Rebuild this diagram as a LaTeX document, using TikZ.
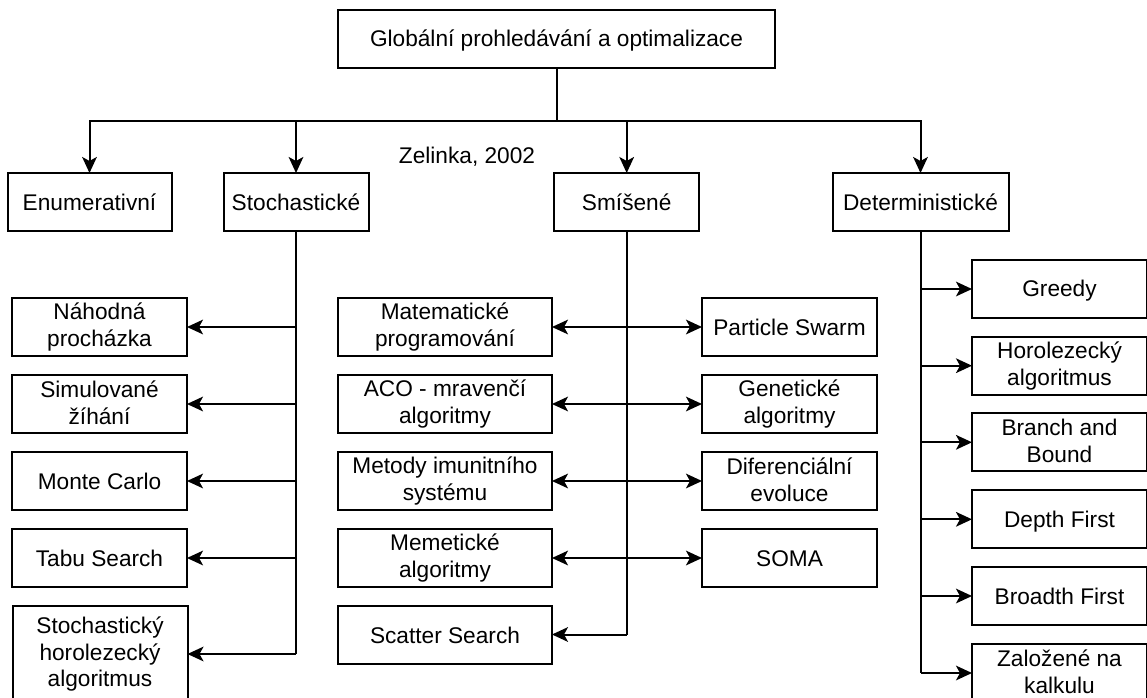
\documentclass[tikz,border=0pt]{standalone}
\usepackage{fontspec}
\setmainfont{Liberation Sans}
\usetikzlibrary{arrows.meta}

% line struts so every label sits on the same baseline grid
\newcommand\topstrut{\rule{0pt}{15.5pt}}
\newcommand\botstrut{\rule[-2.5pt]{0pt}{2.5pt}}

\begin{document}
\begin{tikzpicture}[x=0.75pt,y=-0.75pt,
  label text/.style={font=\fontsize{17}{20}\selectfont,
              execute at begin node=\topstrut,
              execute at end node=\botstrut},
  box/.style={draw, line width=1.5pt, inner sep=0pt, outer sep=0pt,
              align=center, minimum height=43.5pt, label text},
  wire/.style={line width=1.5pt},
  tip/.tip={Stealth[length=12pt,width=11pt,inset=3pt]},
  arr/.style={wire, -tip},
  darr/.style={wire, tip-tip},
  leaf/.style={box, minimum width=131.25pt},
  wide/.style={box, minimum width=160.5pt}
]
\useasboundingbox (0,0) rectangle (1147,697);

% root and the four main classes
\node[box, minimum width=327.75pt] (top) at (556.5,38.6) {Globální prohledávání a optimalizace};
\node[box, minimum width=123pt]    (enum)   at (89.5,202)  {Enumerativní};
\node[box, minimum width=108.75pt] (stoch)  at (296,202)   {Stochastické};
\node[box, minimum width=108.75pt] (mixed)  at (626.7,202) {Smíšené};
\node[box, minimum width=132pt]    (determ) at (920.5,202) {Deterministické};
\node[label text, inner sep=0pt] (cite) at (467,155) {Zelinka, 2002};

% stochastic methods
\node[leaf] (s1) at (99.5,327) {Náhodná\\procházka};
\node[leaf] (s2) at (99.5,404) {Simulované\\žíhání};
\node[leaf] (s3) at (99.5,481) {Monte Carlo};
\node[leaf] (s4) at (99.5,558) {Tabu Search};
\node[leaf, minimum height=72pt] (s5) at (100,654) {Stochastický\\horolezecký\\algoritmus};

% mixed methods
\node[wide] (ml1) at (445,327)   {Matematické\\programování};
\node[wide] (ml2) at (445,404)   {ACO - mravenčí\\algoritmy};
\node[wide] (ml3) at (445,481)   {Metody imunitního\\systému};
\node[wide] (ml4) at (445,558)   {Memetické\\algoritmy};
\node[wide] (ml5) at (445,634.5) {Scatter Search};
\node[leaf] (mr1) at (789.5,327) {Particle Swarm};
\node[leaf] (mr2) at (789.5,404) {Genetické\\algoritmy};
\node[leaf] (mr3) at (789.5,481) {Diferenciální\\evoluce};
\node[leaf] (mr4) at (789.5,558) {SOMA};

% deterministic methods
\node[leaf] (d1) at (1059.5,289)   {Greedy};
\node[leaf] (d2) at (1059.5,365.7) {Horolezecký\\algoritmus};
\node[leaf] (d3) at (1059.5,442.3) {Branch and\\Bound};
\node[leaf] (d4) at (1059.5,519.3) {Depth First};
\node[leaf] (d5) at (1059.5,596)   {Broadth First};
\node[leaf] (d6) at (1059.5,673)   {Založené na\\kalkulu};

% root to classes
\coordinate (hub) at (top.south |- 0,121);
\draw[wire] (top.south) -- (hub);
\draw[arr] (hub) -| (enum.north);
\draw[arr] (hub) -| (stoch.north);
\draw[arr] (hub) -| (mixed.north);
\draw[arr] (hub) -| (determ.north);

% stochastic branch
\draw[wire] (stoch.south) -- (stoch.south |- s5.east);
\foreach \n in {s1,s2,s3,s4,s5}
  \draw[arr] (stoch.south |- \n.east) -- (\n.east);

% mixed branch
\draw[wire] (mixed.south) -- (mixed.south |- ml5.east);
\foreach \n in {1,2,3,4}
  \draw[darr] (ml\n.east) -- (mr\n.west);
\draw[arr] (mixed.south |- ml5.east) -- (ml5.east);

% deterministic branch
\draw[wire] (determ.south) -- (determ.south |- d6.west);
\foreach \n in {d1,d2,d3,d4,d5,d6}
  \draw[arr] (determ.south |- \n.west) -- (\n.west);
\end{tikzpicture}
\end{document}
